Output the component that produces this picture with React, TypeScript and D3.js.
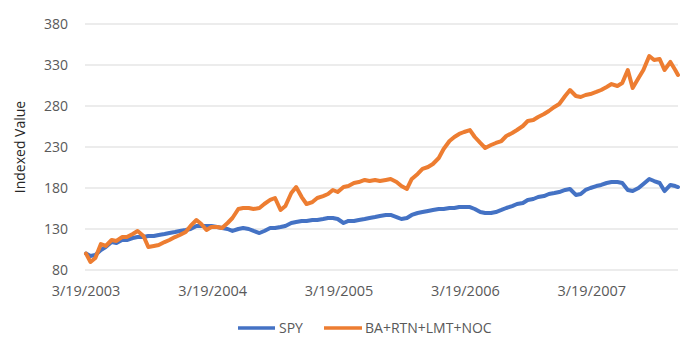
import React from "react";
import * as d3 from "d3";

const dates: string[] = [
  "2003-03-19",
  "2003-04-01","2003-04-15","2003-05-01","2003-05-15","2003-06-01","2003-06-15","2003-07-01","2003-07-15",
  "2003-08-01","2003-08-15","2003-09-01","2003-09-15","2003-10-01","2003-10-15","2003-11-01","2003-11-15",
  "2003-12-01","2003-12-15",
  "2004-01-01","2004-01-15","2004-02-01","2004-02-15","2004-03-01","2004-03-15","2004-04-01","2004-04-15",
  "2004-05-01","2004-05-15","2004-06-01","2004-06-15","2004-07-01","2004-07-15","2004-08-01","2004-08-15",
  "2004-09-01","2004-09-15","2004-10-01","2004-10-15","2004-11-01","2004-11-15","2004-12-01","2004-12-15",
  "2005-01-01","2005-01-15","2005-02-01","2005-02-15","2005-03-01","2005-03-15","2005-04-01","2005-04-15",
  "2005-05-01","2005-05-15","2005-06-01","2005-06-15","2005-07-01","2005-07-15","2005-08-01","2005-08-15",
  "2005-09-01","2005-09-15","2005-10-01","2005-10-15","2005-11-01","2005-11-15","2005-12-01","2005-12-15",
  "2006-01-01","2006-01-15","2006-02-01","2006-02-15","2006-03-01","2006-03-15","2006-04-01","2006-04-15",
  "2006-05-01","2006-05-15","2006-06-01","2006-06-15","2006-07-01","2006-07-15","2006-08-01","2006-08-15",
  "2006-09-01","2006-09-15","2006-10-01","2006-10-15","2006-11-01","2006-11-15","2006-12-01","2006-12-15",
  "2007-01-01","2007-01-15","2007-02-01","2007-02-15","2007-03-01","2007-03-15","2007-04-01","2007-04-15",
  "2007-05-01","2007-05-15","2007-06-01","2007-06-15","2007-07-01","2007-07-15","2007-08-01","2007-08-15",
  "2007-09-01","2007-09-15","2007-10-01","2007-10-15","2007-11-01","2007-11-15","2007-11-23",
];

const spy: number[] = [
  100, 97.1, 98.3, 104.4, 108, 114.1, 112.9, 116.6, 116.6, 119, 120.2, 120.2, 121.5, 121.5, 122.7, 123.9, 125.1, 126.3, 127.6,
  128.8, 130, 133.7, 133.7, 133.7, 133.7, 132.4, 131.2, 130, 127.6, 130, 131.2, 130, 127.6, 125.1, 127.6, 131.2, 131.2, 132.4, 133.7, 137.3, 138.5, 139.8, 139.8,
  141, 141, 142.2, 143.4, 143.4, 142.2, 137.3, 139.8, 139.8, 141, 142.2, 143.4, 144.6, 145.9, 147.1, 147.1, 144.6, 142.2, 143.4, 147.1, 149.5, 150.7, 152, 153.2,
  154.4, 154.4, 155.6, 155.6, 156.8, 156.8, 156.8, 154.4, 150.7, 149.5, 149.5, 150.7, 153.2, 155.6, 158, 160.5, 161.7, 165.4, 166.6, 169, 170.2, 172.7, 173.9, 175.1,
  177.6, 178.8, 171.5, 172.7, 177.6, 180, 182.4, 183.7, 186.1, 187.3, 187.3, 186.1, 177.6, 176.3, 180, 184.9, 191, 188.5, 186.1, 176.3, 183.7, 182.4, 181.2,
];

const defense: number[] = [
  100, 89.8, 94.6, 111.7, 109.3, 116.6, 115.4, 120.2, 120.2, 123.9, 127.6, 121.5, 108, 109.3, 110.5, 114.1, 116.6, 120.2, 122.7,
  126.3, 133.7, 141, 136.1, 128.8, 132.4, 132.4, 131.2, 137.3, 143.4, 154.4, 155.6, 155.6, 154.4, 155.6, 160.5, 165.4, 167.8, 153.2, 158, 173.9, 181.2, 169, 160.5,
  162.9, 167.8, 170.2, 172.7, 177.6, 175.1, 181.2, 182.4, 186.1, 187.3, 189.8, 188.5, 189.8, 188.5, 189.8, 191, 187.3, 182.4, 178.8, 191, 197.1, 203.2, 205.6, 209.3,
  216.6, 227.6, 237.3, 242.2, 245.9, 248.3, 250.7, 242.2, 234.9, 228.8, 232.4, 234.9, 237.3, 243.4, 247.1, 250.7, 255.6, 261.7, 262.9, 266.6, 270.2, 273.9, 278.8, 282.4,
  292.2, 299.5, 292.2, 291, 293.4, 294.6, 297.1, 299.5, 303.2, 306.8, 304.4, 308, 323.9, 301.9, 314.1, 323.9, 341, 336.1, 337.3, 323.9, 333.7, 323.9, 317.8,
];

const yTicks: number[] = [80, 130, 180, 230, 280, 330, 380];
const xTickDates: string[] = ["2003-03-19", "2004-03-19", "2005-03-19", "2006-03-19", "2007-03-19"];
const xTickLabels: string[] = ["3/19/2003", "3/19/2004", "3/19/2005", "3/19/2006", "3/19/2007"];
const seriesNames: string[] = ["SPY", "BA+RTN+LMT+NOC"];
const seriesColors: string[] = ["#4472C4", "#ED7D31"];

const W = 700;
const H = 357;
const left = 86;
const right = 678;
const top = 24;
const bottom = 270;

const parse = d3.timeParse("%Y-%m-%d");

export default function App() {
  const parsed = dates.map((d) => parse(d) as Date);
  const x = d3.scaleTime().domain([parsed[0], parsed[parsed.length - 1]]).range([left, right]);
  const y = d3.scaleLinear().domain([80, 380]).range([bottom, top]);
  const line = d3
    .line<number>()
    .x((_, i) => x(parsed[i]))
    .y((v) => y(v));
  const series = [spy, defense];
  const font = "'Open Sans', sans-serif";
  return (
    <svg
      width={W}
      height={H}
      style={{ position: "absolute", left: 0, top: 0, background: "#fff" }}
      fontFamily={font}
    >
      {yTicks.map((t) => (
        <g key={t}>
          <line x1={left - 1} x2={right} y1={y(t)} y2={y(t)} stroke="#d9d9d9" strokeWidth={1} />
          <text x={68} y={y(t)} dy="0.35em" textAnchor="end" fontSize={14} fill="#595959">
            {t}
          </text>
        </g>
      ))}
      {xTickDates.map((d, i) => (
        <text key={d} x={x(parse(d) as Date)} y={296} textAnchor="middle" fontSize={14.5} fill="#595959">
          {xTickLabels[i]}
        </text>
      ))}
      <text
        transform={`translate(25,${(top + bottom) / 2}) rotate(-90)`}
        textAnchor="middle"
        fontSize={14}
        fill="#262626"
      >
        Indexed Value
      </text>
      {series.map((s, i) => (
        <path
          key={i}
          d={line(s) || ""}
          fill="none"
          stroke={seriesColors[i]}
          strokeWidth={4}
          strokeLinejoin="round"
          strokeLinecap="round"
        />
      ))}
      <g>
        <line x1={238} x2={275} y1={328} y2={328} stroke={seriesColors[0]} strokeWidth={3.5} />
        <text x={279} y={328} dy="0.35em" fontSize={14} fill="#595959">
          {seriesNames[0]}
        </text>
        <line x1={324} x2={362} y1={328} y2={328} stroke={seriesColors[1]} strokeWidth={3.5} />
        <text x={365} y={328} dy="0.35em" fontSize={14} fill="#595959">
          {seriesNames[1]}
        </text>
      </g>
    </svg>
  );
}
